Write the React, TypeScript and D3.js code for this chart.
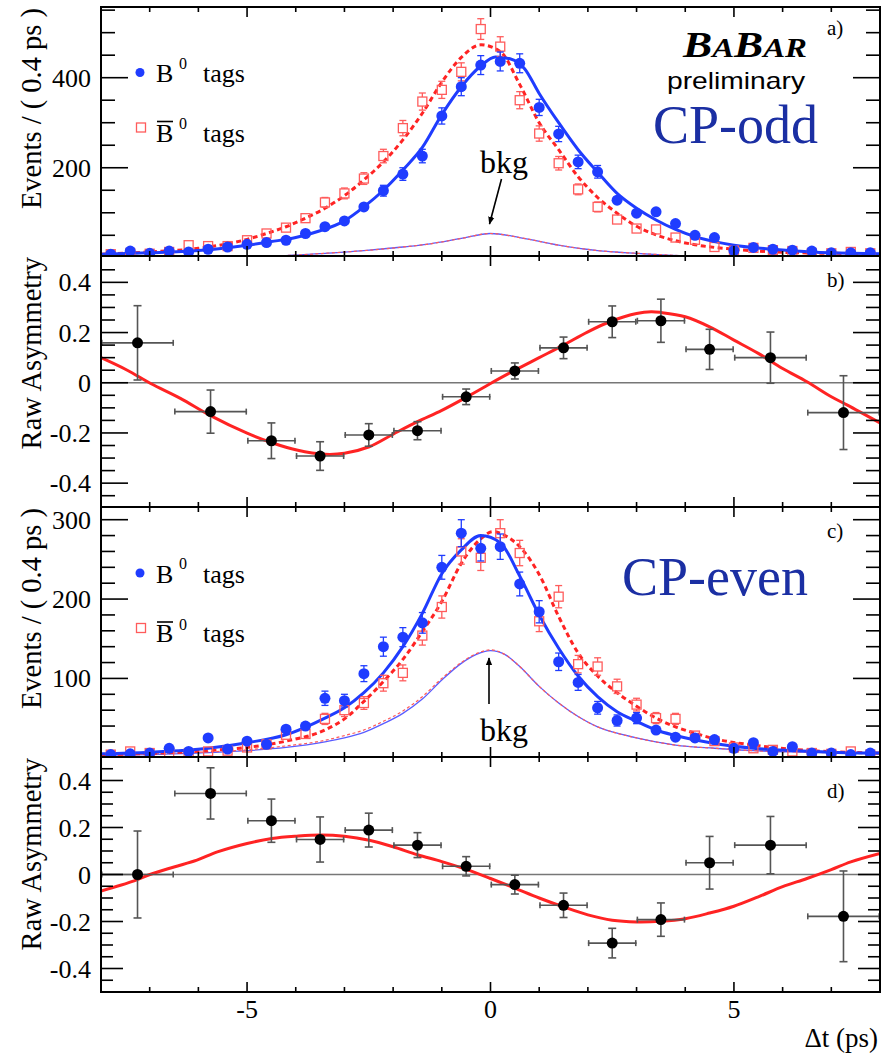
import React from "react";
import * as d3 from "d3";

// ---------- data ----------
const evBins = [-7.8, -7.4, -7.0, -6.6, -6.2, -5.8, -5.4, -5.0, -4.6, -4.2, -3.8, -3.4, -3.0, -2.6, -2.2, -1.8, -1.4, -1.0, -0.6, -0.2,
  0.2, 0.6, 1.0, 1.4, 1.8, 2.2, 2.6, 3.0, 3.4, 3.8, 4.2, 4.6, 5.0, 5.4, 5.8, 6.2, 6.6, 7.0, 7.4, 7.8];

// CP-odd (panel a)
const oddB0 = [8, 15, 10, 15, 13, 19, 24, 30, 34, 39, 54, 69, 82, 113, 149, 186, 226, 315, 380, 428,
  436, 432, 334, 275, 213, 191, 128, 99, 102, 76, 50, 45, 16, 23, 19, 17, 15, 11, 11, 11];
const oddB0Err = [3, 4, 3, 4, 4, 4, 5, 5, 6, 6, 7, 8, 9, 11, 12, 14, 15, 18, 20, 21,
  21, 21, 18, 17, 15, 14, 11, 10, 10, 9, 7, 7, 4, 5, 4, 4, 4, 3, 3, 3];
const oddB0bar = [8, 10, 9, 13, 28, 26, 26, 39, 54, 67, 88, 123, 143, 176, 226, 288, 347, 373, 413, 508,
  469, 350, 276, 210, 152, 113, 85, 65, 63, 45, 40, 24, 16, 22, 17, 15, 10, 10, 13, 10];
const oddB0barErr = [3, 3, 3, 4, 5, 5, 5, 6, 7, 8, 9, 11, 12, 13, 15, 17, 19, 19, 20, 23,
  22, 19, 17, 15, 12, 11, 9, 8, 8, 7, 6, 5, 4, 5, 4, 4, 3, 3, 4, 3];

const oddFitB0X = [-8, -7, -6, -5, -4.5, -4, -3.5, -3, -2.6, -2.2, -1.8, -1.4, -1.0, -0.6, -0.2, 0.1, 0.4, 0.7, 1.0, 1.4, 1.8, 2.2, 2.6, 3.0, 3.4, 3.8, 4.2, 4.6, 5.0, 5.8, 6.6, 7.4, 8];
const oddFitB0 = [8, 11, 16, 28, 36, 45, 60, 82, 113, 150, 195, 245, 318, 380, 426, 446, 442, 420, 365, 300, 240, 190, 143, 110, 84, 63, 47, 36, 28, 19, 13, 10, 9];
const oddFitB0barX = [-8, -7, -6, -5, -4.6, -4.2, -3.8, -3.4, -3.0, -2.6, -2.2, -1.8, -1.4, -1.0, -0.6, -0.2, 0.2, 0.6, 1.0, 1.4, 1.8, 2.2, 2.6, 3.0, 3.4, 3.8, 4.2, 5.0, 5.8, 7, 8];
const oddFitB0bar = [8, 13, 21, 41, 54, 69, 88, 110, 138, 173, 213, 262, 321, 390, 445, 473, 458, 385, 300, 240, 180, 134, 99, 70, 51, 38, 29, 19, 13, 10, 9];
const oddBkgX = [-8, -5, -4.2, -3.4, -2.6, -1.8, -1.24, -0.6, 0, 0.6, 1.4, 2.2, 3.0, 3.9, 5, 8];
const oddBkg = [1, 3, 5, 10, 16, 24, 31, 43, 54, 45, 28, 16, 10, 5, 3, 1];

// CP-even (panel c)
const evenB0 = [4, 5, 6, 12, 8, 25, 11, 21, 17, 36, 40, 75, 72, 106, 140, 152, 170, 240, 283, 264,
  266, 219, 184, 121, 95, 63, 47, 50, 35, 26, 25, 23, 12, 19, 8, 14, 6, 6, 4, 6];
const evenB0Err = [2, 2, 2, 3, 3, 5, 3, 5, 4, 6, 6, 9, 8, 10, 12, 12, 13, 15, 17, 16,
  16, 15, 14, 11, 10, 8, 7, 7, 6, 5, 5, 5, 3, 4, 3, 4, 2, 2, 2, 2];
const evenB0bar = [4, 8, 6, 7, 5, 8, 9, 13, 17, 29, 30, 49, 60, 69, 94, 107, 154, 190, 260, 252,
  283, 258, 172, 203, 118, 115, 90, 67, 50, 49, 28, 21, 13, 12, 10, 8, 6, 5, 8, 4];
const evenB0barErr = [2, 3, 2, 3, 2, 3, 3, 4, 4, 5, 5, 7, 8, 8, 10, 10, 12, 14, 16, 16,
  17, 16, 13, 14, 11, 11, 9, 8, 7, 7, 5, 5, 4, 3, 3, 3, 2, 2, 3, 2];

const evenFitB0X = [-8, -7, -5.8, -5.0, -4.2, -3.4, -3.0, -2.6, -2.2, -1.8, -1.4, -1.0, -0.6, -0.2, 0.2, 0.6, 1.0, 1.4, 1.8, 2.2, 2.6, 3.0, 3.4, 3.8, 4.6, 5.4, 6.6, 7.8, 8];
const evenFitB0 = [5, 7, 12, 19, 29, 50, 63, 82, 107, 140, 182, 232, 262, 280, 271, 229, 180, 138, 103, 77, 58, 46, 35, 28, 18, 12, 8, 6, 6];
const evenFitB0barX = [-8, -5.8, -5.0, -4.2, -3.4, -3.0, -2.6, -2.2, -1.8, -1.4, -1.0, -0.6, -0.2, 0.05, 0.3, 0.6, 1.0, 1.4, 1.8, 2.2, 2.6, 3.0, 3.4, 3.8, 4.2, 4.6, 5.4, 6.6, 8];
const evenFitB0bar = [4, 9, 13, 21, 35, 49, 71, 96, 124, 159, 197, 245, 276, 285, 280, 266, 231, 178, 132, 103, 82, 65, 50, 39, 31, 24, 16, 9, 6];
const evenBkgX = [-8, -7, -6, -5, -4.2, -3.4, -3.0, -2.6, -2.2, -1.8, -1.4, -1.0, -0.6, -0.3, 0, 0.3, 0.6, 1.0, 1.4, 1.8, 2.2, 2.6, 3.0, 3.8, 4.6, 5.4, 6.6, 8];
const evenBkgB0 = [3, 4, 6, 9, 13, 20, 25, 32, 43, 56, 74, 98, 119, 130, 135, 130, 115, 90, 69, 52, 39, 31, 25, 16, 12, 9, 7, 5];
const evenBkgB0bar = [3, 5, 7, 10, 15, 22, 28, 35, 46, 59, 77, 100, 120, 131, 136, 130, 115, 90, 69, 52, 39, 31, 25, 16, 12, 9, 7, 5];

// Raw asymmetry (panels b, d)
const asymEdges = [-8, -6.5, -5, -4, -3, -2, -1, 0, 1, 2, 3, 4, 5, 6.5, 8];
const asymOdd = [0.159, -0.115, -0.231, -0.292, -0.208, -0.191, -0.056, 0.047, 0.139, 0.243, 0.247, 0.133, 0.100, -0.119];
const asymOddErr = [0.148, 0.086, 0.071, 0.057, 0.045, 0.036, 0.031, 0.032, 0.043, 0.063, 0.086, 0.080, 0.102, 0.147];
const asymEven = [0.0, 0.345, 0.229, 0.149, 0.189, 0.125, 0.035, -0.043, -0.131, -0.292, -0.192, 0.05, 0.125, -0.178];
const asymEvenErr = [0.185, 0.109, 0.092, 0.096, 0.072, 0.053, 0.041, 0.040, 0.052, 0.063, 0.071, 0.112, 0.122, 0.193];

const asymOddFitX = [-8, -7.46, -6.98, -6.37, -5.75, -5.0, -4.49, -3.98, -3.4, -3.0, -2.49, -2.0, -1.5, -1.0, -0.5, 0, 0.5, 1.0, 1.5, 2.0, 2.5, 3.0, 3.3, 3.5, 4.0, 4.5, 5.0, 5.5, 6.0, 6.5, 7.0, 7.33, 8];
const asymOddFit = [0.10, 0.05, -0.003, -0.062, -0.131, -0.201, -0.239, -0.268, -0.285, -0.281, -0.255, -0.205, -0.155, -0.11, -0.058, -0.003, 0.05, 0.1, 0.15, 0.203, 0.247, 0.276, 0.283, 0.28, 0.263, 0.223, 0.17, 0.117, 0.057, 0.004, -0.056, -0.089, -0.16];
const asymEvenFitX = [-8, -7.32, -6.98, -6.5, -6.03, -5.61, -5.0, -4.49, -3.98, -3.5, -3.0, -2.49, -2.0, -1.5, -1.0, -0.5, 0, 0.5, 1.0, 1.5, 2.0, 2.5, 3.0, 3.5, 4.0, 4.5, 5.0, 5.5, 6.0, 6.5, 7.0, 7.4, 8];
const asymEvenFit = [-0.07, -0.027, 0.001, 0.032, 0.061, 0.096, 0.132, 0.153, 0.163, 0.168, 0.163, 0.146, 0.118, 0.084, 0.055, 0.022, -0.017, -0.058, -0.1, -0.138, -0.172, -0.195, -0.202, -0.199, -0.188, -0.164, -0.135, -0.095, -0.052, -0.017, 0.021, 0.054, 0.09];

// ticks
const xMajorTicks = [-5, 0, 5];
const xMinorTicks = [-7, -6, -4, -3, -2, -1, 1, 2, 3, 4, 6, 7];
const xTickLabels = ["-5", "0", "5"];
const oddYTicks = [200, 400];
const oddYLabels = ["200", "400"];
const evenYTicks = [100, 200, 300];
const evenYLabels = ["100", "200", "300"];
const asymYTicks = [-0.4, -0.2, 0, 0.2, 0.4];
const asymYLabels = ["-0.4", "-0.2", "0", "0.2", "0.4"];

// ---------- drawing ----------
const W = 885, H = 1060;
const X0 = 101, X1 = 880;
const SERIF = "'Liberation Serif','Times New Roman',serif";
const SANS = "'Liberation Sans',Arial,sans-serif";
const BLUE = "#1f3cff";
const RED = "#ff2323";
const RED_LIGHT = "#ff5c5c";
const CPBLUE = "#1b2fa3";

const x = d3.scaleLinear().domain([-8, 8]).range([X0, X1]);

type P = {
  id: string; top: number; bottom: number; domain: [number, number];
  major: number[]; labels: string[]; minor: number[]; majLen: number; minLen: number;
  title: string;
};

const panels: P[] = [
  { id: "a", top: 7, bottom: 256, domain: [4, 557], major: oddYTicks, labels: oddYLabels,
    minor: d3.range(50, 551, 50).filter((v) => !oddYTicks.includes(v)), majLen: 27, minLen: 14, title: "Events / ( 0.4 ps )" },
  { id: "b", top: 256, bottom: 507, domain: [-0.495, 0.505], major: asymYTicks, labels: asymYLabels,
    minor: d3.range(-9, 10).map((i) => i * 0.05).filter((v) => Math.abs(Math.round(v * 100) % 20) !== 0), majLen: 27, minLen: 14, title: "Raw Asymmetry" },
  { id: "c", top: 507, bottom: 757, domain: [1, 316], major: evenYTicks, labels: evenYLabels,
    minor: d3.range(20, 316, 20).filter((v) => !evenYTicks.includes(v)), majLen: 27, minLen: 14, title: "Events / ( 0.4 ps )" },
  { id: "d", top: 757, bottom: 992, domain: [-0.5, 0.5], major: asymYTicks, labels: asymYLabels,
    minor: d3.range(-9, 10).map((i) => i * 0.05).filter((v) => Math.abs(Math.round(v * 100) % 20) !== 0), majLen: 22, minLen: 12, title: "Raw Asymmetry" },
];

const yOf = (p: P) => d3.scaleLinear().domain(p.domain).range([p.bottom, p.top]);
const zip = (xs: number[], ys: number[]) => xs.map((v, i) => [v, ys[i]] as [number, number]);

function Frame({ p }: { p: P }) {
  const y = yOf(p);
  const items: React.ReactNode[] = [];
  p.major.forEach((v, i) => {
    const yy = y(v);
    items.push(<line key={"lm" + i} x1={X0} x2={X0 + p.majLen} y1={yy} y2={yy} />);
    items.push(<line key={"rm" + i} x1={X1} x2={X1 - p.majLen} y1={yy} y2={yy} />);
  });
  p.minor.forEach((v, i) => {
    const yy = y(v);
    if (yy < p.top + 1 || yy > p.bottom - 1) return;
    items.push(<line key={"ln" + i} x1={X0} x2={X0 + p.minLen} y1={yy} y2={yy} />);
    items.push(<line key={"rn" + i} x1={X1} x2={X1 - p.minLen} y1={yy} y2={yy} />);
  });
  xMajorTicks.forEach((v, i) => {
    items.push(<line key={"xb" + i} x1={x(v)} x2={x(v)} y1={p.bottom} y2={p.bottom - 10} />);
    items.push(<line key={"xt" + i} x1={x(v)} x2={x(v)} y1={p.top} y2={p.top + 10} />);
  });
  xMinorTicks.forEach((v, i) => {
    items.push(<line key={"xbn" + i} x1={x(v)} x2={x(v)} y1={p.bottom} y2={p.bottom - 5} />);
    items.push(<line key={"xtn" + i} x1={x(v)} x2={x(v)} y1={p.top} y2={p.top + 5} />);
  });
  return (
    <g>
      <g stroke="#000" strokeWidth={1.6}>{items}</g>
      <rect x={X0} y={p.top} width={X1 - X0} height={p.bottom - p.top} fill="none" stroke="#000" strokeWidth={2} />
      <g style={{ fontFamily: SERIF }} fontSize={26} textAnchor="end" fill="#000">
        {p.major.map((v, i) => (
          <text key={i} x={91} y={y(v) + 9}>{p.labels[i]}</text>
        ))}
      </g>
      <text transform={`translate(41,${p.top + 1}) rotate(-90)`} textAnchor="end" style={{ fontFamily: SERIF }} fontSize={28.5}>{p.title}</text>
    </g>
  );
}

function EventPoints({ p, vals, errs, kind }: { p: P; vals: number[]; errs: number[]; kind: "circle" | "square" }) {
  const y = yOf(p);
  const col = kind === "circle" ? BLUE : RED_LIGHT;
  const half = kind === "circle" ? 5 : 4.5;
  return (
    <g>
      {evBins.map((b, i) => {
        const cx = x(b), cy = y(vals[i]);
        const yHi = y(vals[i] + errs[i]), yLo = Math.min(y(vals[i] - errs[i]), p.bottom);
        return (
          <g key={i}>
            <g stroke={col} strokeWidth={1.3}>
              {cy - yHi > half && <line x1={cx} x2={cx} y1={cy - half} y2={yHi} />}
              {cy - yHi > half && <line x1={cx - 3.5} x2={cx + 3.5} y1={yHi} y2={yHi} />}
              {yLo - cy > half && <line x1={cx} x2={cx} y1={cy + half} y2={yLo} />}
              {yLo - cy > half && yLo < p.bottom && <line x1={cx - 3.5} x2={cx + 3.5} y1={yLo} y2={yLo} />}
            </g>
            {kind === "circle" ? (
              <circle cx={cx} cy={cy} r={5.5} fill={BLUE} />
            ) : (
              <rect x={cx - 4.5} y={cy - 4.5} width={9} height={9} fill="none" stroke={RED_LIGHT} strokeWidth={1.3} />
            )}
          </g>
        );
      })}
    </g>
  );
}

function AsymPoints({ p, vals, errs }: { p: P; vals: number[]; errs: number[] }) {
  const y = yOf(p);
  return (
    <g>
      {vals.map((v, i) => {
        const xl = x(asymEdges[i]), xr = x(asymEdges[i + 1]);
        const cx = (xl + xr) / 2, cy = y(v);
        const yt = y(v + errs[i]), yb = y(v - errs[i]);
        return (
          <g key={i}>
            <g stroke="#555" strokeWidth={1.6}>
              <line x1={xl} x2={xr} y1={cy} y2={cy} />
              <line x1={xl + 0.8} x2={xl + 0.8} y1={cy - 3} y2={cy + 3} />
              <line x1={xr - 0.8} x2={xr - 0.8} y1={cy - 3} y2={cy + 3} />
              <line x1={cx} x2={cx} y1={yt} y2={yb} />
              <line x1={cx - 4} x2={cx + 4} y1={yt} y2={yt} />
              <line x1={cx - 4} x2={cx + 4} y1={yb} y2={yb} />
            </g>
            <circle cx={cx} cy={cy} r={5.5} fill="#000" />
          </g>
        );
      })}
    </g>
  );
}

function Legend({ dy }: { dy: number }) {
  return (
    <g style={{ fontFamily: SERIF }} fill="#000">
      <circle cx={140} cy={72.5 + dy} r={4.5} fill={BLUE} />
      <text x={156} y={82 + dy} fontSize={26}>B</text>
      <text x={179} y={68.5 + dy} fontSize={16}>0</text>
      <text x={203} y={82 + dy} fontSize={26}>tags</text>
      <rect x={136.5} y={123 + dy} width={9} height={9} fill="none" stroke={RED_LIGHT} strokeWidth={1.3} />
      <text x={156} y={141.5 + dy} fontSize={26}>B</text>
      <line x1={157} x2={173} y1={121.5 + dy} y2={121.5 + dy} stroke="#000" strokeWidth={1.6} />
      <text x={179} y={129 + dy} fontSize={16}>0</text>
      <text x={203} y={141.5 + dy} fontSize={26}>tags</text>
    </g>
  );
}

export default function App() {
  const [pa, pb, pc, pd] = panels;
  const ya = yOf(pa), yb = yOf(pb), yc = yOf(pc), yd = yOf(pd);
  const lineA = d3.line<[number, number]>().x((d) => x(d[0])).y((d) => ya(d[1])).curve(d3.curveMonotoneX);
  const lineC = d3.line<[number, number]>().x((d) => x(d[0])).y((d) => yc(d[1])).curve(d3.curveMonotoneX);
  const lineB = d3.line<[number, number]>().x((d) => x(d[0])).y((d) => yb(d[1])).curve(d3.curveCatmullRom);
  const lineD = d3.line<[number, number]>().x((d) => x(d[0])).y((d) => yd(d[1])).curve(d3.curveCatmullRom);

  return (
    <svg width={W} height={H} style={{ position: "absolute", left: 0, top: 0, background: "#fff" }}>
      <defs>
        {panels.map((p) => (
          <clipPath id={"clip-" + p.id} key={p.id}>
            <rect x={X0} y={p.top} width={X1 - X0} height={p.bottom - p.top} />
          </clipPath>
        ))}
        <marker id="arrowHead" viewBox="0 0 10 10" refX="9" refY="5" markerWidth="8" markerHeight="8" orient="auto" markerUnits="userSpaceOnUse">
          <path d="M0,1 L10,5 L0,9 z" fill="#000" />
        </marker>
      </defs>
      <rect x={0} y={0} width={W} height={H} fill="#fff" />

      {/* Panel a: CP-odd */}
      <g clipPath="url(#clip-a)">
        <path d={lineA(zip(oddBkgX, oddBkg)) || ""} fill="none" stroke="#5a5cff" strokeWidth={1.3} />
        <path d={lineA(zip(oddBkgX, oddBkg)) || ""} fill="none" stroke="#ff5a5a" strokeWidth={1.2} strokeDasharray="3,2.5" />
        <path d={lineA(zip(oddFitB0barX, oddFitB0bar)) || ""} fill="none" stroke={RED} strokeWidth={3} strokeDasharray="5,3.5" />
        <path d={lineA(zip(oddFitB0X, oddFitB0)) || ""} fill="none" stroke={BLUE} strokeWidth={3} />
        <EventPoints p={pa} vals={oddB0bar} errs={oddB0barErr} kind="square" />
        <EventPoints p={pa} vals={oddB0} errs={oddB0Err} kind="circle" />
      </g>

      {/* Panel b */}
      <line x1={X0} x2={X1} y1={yb(0)} y2={yb(0)} stroke="#777" strokeWidth={1.5} />
      <g clipPath="url(#clip-b)">
        <path d={lineB(zip(asymOddFitX, asymOddFit)) || ""} fill="none" stroke={RED} strokeWidth={3} />
        <AsymPoints p={pb} vals={asymOdd} errs={asymOddErr} />
      </g>

      {/* Panel c: CP-even */}
      <g clipPath="url(#clip-c)">
        <path d={lineC(zip(evenBkgX, evenBkgB0)) || ""} fill="none" stroke="#5a5cff" strokeWidth={1.3} />
        <path d={lineC(zip(evenBkgX, evenBkgB0bar)) || ""} fill="none" stroke="#ff5a5a" strokeWidth={1.2} strokeDasharray="3,2.5" />
        <path d={lineC(zip(evenFitB0barX, evenFitB0bar)) || ""} fill="none" stroke={RED} strokeWidth={3} strokeDasharray="5,3.5" />
        <path d={lineC(zip(evenFitB0X, evenFitB0)) || ""} fill="none" stroke={BLUE} strokeWidth={3} />
        <EventPoints p={pc} vals={evenB0bar} errs={evenB0barErr} kind="square" />
        <EventPoints p={pc} vals={evenB0} errs={evenB0Err} kind="circle" />
      </g>

      {/* Panel d */}
      <line x1={X0} x2={X1} y1={yd(0)} y2={yd(0)} stroke="#777" strokeWidth={1.5} />
      <g clipPath="url(#clip-d)">
        <path d={lineD(zip(asymEvenFitX, asymEvenFit)) || ""} fill="none" stroke={RED} strokeWidth={3} />
        <AsymPoints p={pd} vals={asymEven} errs={asymEvenErr} />
      </g>

      {panels.map((p) => <Frame key={p.id} p={p} />)}

      {/* x tick labels and title */}
      <g style={{ fontFamily: SERIF }} fontSize={26} textAnchor="middle">
        {xMajorTicks.map((v, i) => (
          <text key={i} x={x(v)} y={1018}>{xTickLabels[i]}</text>
        ))}
      </g>
      <text x={878} y={1047} textAnchor="end" style={{ fontFamily: SERIF }} fontSize={27}>Δt (ps)</text>

      {/* panel labels */}
      <g style={{ fontFamily: SERIF }} fontSize={21}>
        <text x={827} y={35}>a)</text>
        <text x={827} y={287}>b)</text>
        <text x={827} y={538}>c)</text>
        <text x={827} y={798}>d)</text>
      </g>

      {/* legends */}
      <Legend dy={0} />
      <Legend dy={500.5} />

      {/* BaBar logo */}
      <text x={683} y={57} style={{ fontFamily: SERIF }} fontStyle="italic" fontWeight="bold" textLength={124} lengthAdjust="spacingAndGlyphs">
        <tspan fontSize={36}>B</tspan><tspan fontSize={27}>A</tspan><tspan fontSize={36}>B</tspan><tspan fontSize={27}>AR</tspan>
      </text>
      <text x={667} y={89} style={{ fontFamily: SANS }} fontSize={24} textLength={138} lengthAdjust="spacingAndGlyphs">preliminary</text>
      <text x={653} y={143} style={{ fontFamily: SERIF }} fontSize={54} fill={CPBLUE}>CP-odd</text>
      <text x={622} y={595} style={{ fontFamily: SERIF }} fontSize={54} fill={CPBLUE}>CP-even</text>

      {/* bkg labels & arrows */}
      <text x={504} y={173} textAnchor="middle" style={{ fontFamily: SERIF }} fontSize={32}>bkg</text>
      <line x1={501.5} y1={179} x2={489.5} y2={224} stroke="#000" strokeWidth={1.6} markerEnd="url(#arrowHead)" />
      <text x={504} y={741} textAnchor="middle" style={{ fontFamily: SERIF }} fontSize={32}>bkg</text>
      <line x1={489} y1={704} x2={489} y2={658} stroke="#000" strokeWidth={1.6} markerEnd="url(#arrowHead)" />
    </svg>
  );
}
